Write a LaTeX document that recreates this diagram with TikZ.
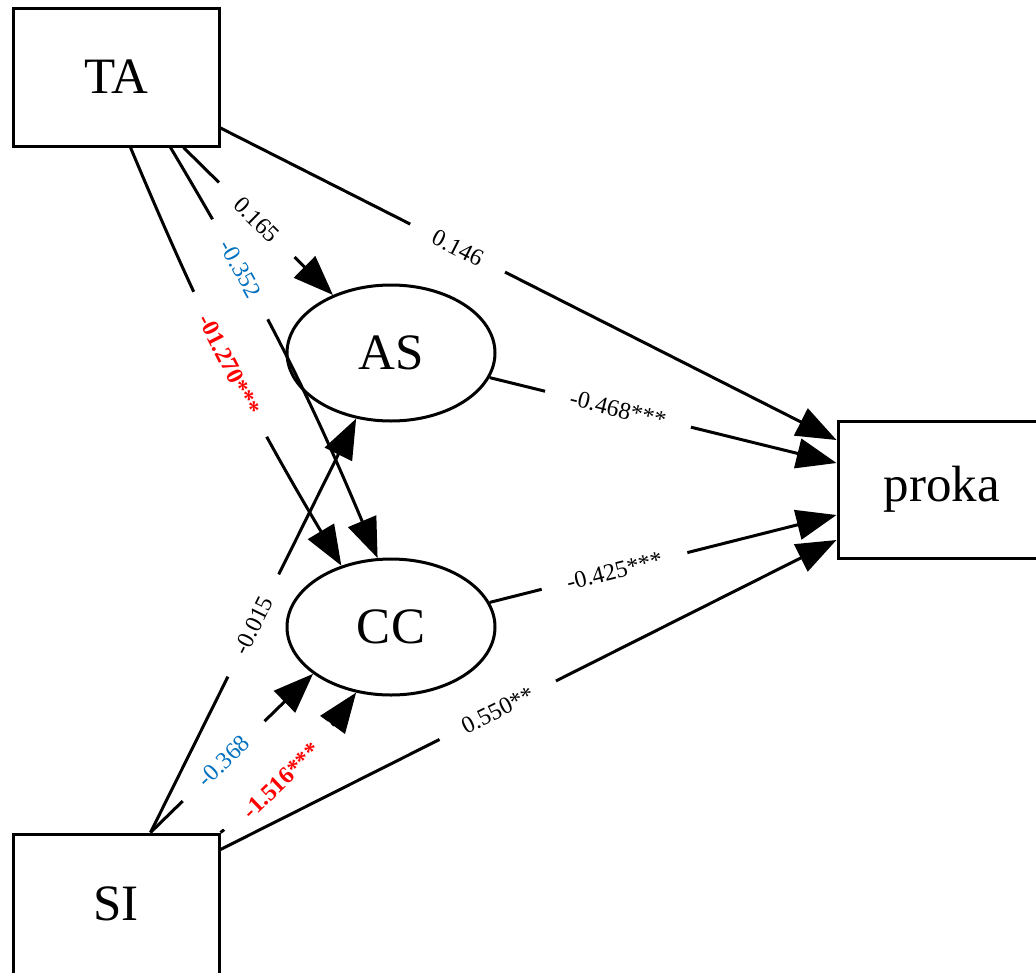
\documentclass[tikz,border=0pt]{standalone}
\usepackage{fontspec}
\setmainfont{Liberation Serif}
\usetikzlibrary{arrows.meta,shapes.geometric,calc}
\definecolor{sigred}{RGB}{255,0,0}
\definecolor{nsblue}{RGB}{0,112,192}
\begin{document}
\begin{tikzpicture}[x=1pt,y=1pt,
  box/.style={draw, line width=3pt, minimum width=206pt, minimum height=138pt, inner sep=0pt, font=\fontsize{51}{60}\selectfont},
  lat/.style={ellipse, draw, line width=3pt, minimum width=208pt, minimum height=136pt, inner sep=0pt, font=\fontsize{51}{60}\selectfont},
  edge/.style={line width=3pt, -{Triangle[length=40pt,width=30pt]}},
  lbl/.style={sloped, fill=white, inner xsep=26pt, inner ysep=2pt, font=\fontsize{24}{28}\selectfont},
  lblns/.style={lbl, text=nsblue},
  lblsig/.style={lbl, text=sigred, font=\fontsize{24}{28}\selectfont\bfseries}]
\clip (0,0) rectangle (1036,-972);
% nodes
\node[box] (TA) at (116,-77) {TA};
\node[box, minimum height=140pt] (SI) at (116,-904) {SI};
\node[box, minimum width=208pt, minimum height=137pt] (proka) at (942,-489.5) {proka};
\node[lat] (AS) at (391,-353) {AS};
\node[lat] (CC) at (391,-627) {CC};
% edges from TA
\draw[edge] ($(TA.east)+(0,-51)$) -- node[lbl,pos=0.385]{0.146} ($(proka.west)+(0,49.5)$);
\draw[edge] ($(TA.south west)+(172,0)$) -- node[lbl,pos=0.49]{0.165} (AS.135);
\draw[edge] ($(TA.south west)+(159,0)$) to[bend left=4] node[lblns,pos=0.29]{-0.352} (CC.101.8);
\draw[edge] ($(TA.south west)+(119,0)$) to[bend right=4] node[lblsig,pos=0.51]{-01.270***} (CC.129.7);
% edges into proka
\draw[edge] (AS.-14.5) -- node[lbl,pos=0.37]{-0.468***} ($(proka.west)+(0,26.5)$);
\draw[edge] (CC.14.2) -- node[lbl,pos=0.36]{-0.425***} ($(proka.west)+(0,-25.5)$);
\draw[edge] ($(SI.north east)+(0,-17)$) -- node[lbl,pos=0.45]{0.550**} ($(proka.west)+(0,-50.5)$);
% edges from SI
\draw[edge] ($(SI.north west)+(139,0)$) -- node[lbl,pos=0.5]{-0.015} (AS.-118);
\draw[edge] ($(SI.north west)+(139,0)$) -- node[lblns,pos=0.45]{-0.368} (CC.211.2);
\draw[edge] (SI.north east) to[bend right=8] node[lblsig,pos=0.4]{-1.516***} (CC.-118.4);
\end{tikzpicture}
\end{document}
